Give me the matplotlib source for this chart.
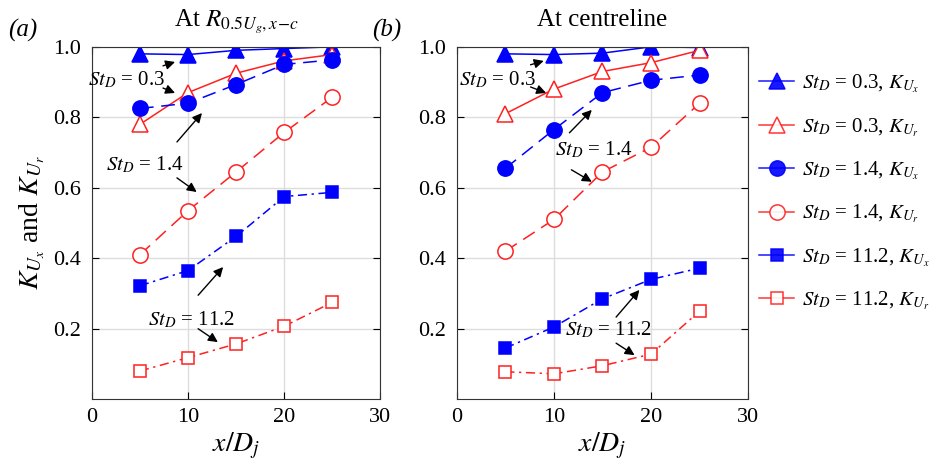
import numpy as np
from matplotlib import pyplot as plt
from matplotlib.lines import Line2D

plt.rcParams['font.family'] = ['Liberation Serif', 'DejaVu Serif']
plt.rcParams['mathtext.fontset'] = 'stix'
plt.rcParams['font.size'] = 16

X_D = [5, 10, 15, 20, 25]

# panel (a): at R_0.5Ug,x-c
A_ST03_KUX = [0.980, 0.978, 0.990, 0.995, 1.000]
A_ST03_KUR = [0.780, 0.870, 0.925, 0.960, 0.978]
A_ST14_KUX = [0.825, 0.840, 0.893, 0.950, 0.963]
A_ST14_KUR = [0.410, 0.535, 0.645, 0.757, 0.857]
A_ST112_KUX = [0.322, 0.365, 0.462, 0.575, 0.587]
A_ST112_KUR = [0.080, 0.118, 0.157, 0.207, 0.275]

# panel (b): at centreline
B_ST03_KUX = [0.980, 0.978, 0.982, 1.000, 0.998]
B_ST03_KUR = [0.810, 0.880, 0.930, 0.955, 0.990]
B_ST14_KUX = [0.655, 0.765, 0.870, 0.905, 0.920]
B_ST14_KUR = [0.420, 0.510, 0.645, 0.715, 0.840]
B_ST112_KUX = [0.145, 0.205, 0.285, 0.340, 0.372]
B_ST112_KUR = [0.078, 0.072, 0.095, 0.128, 0.250]

LABELS = [
    r"$St_D$ = 0.3, $K_{U_x}$",
    r"$St_D$ = 0.3, $K_{U_r}$",
    r"$St_D$ = 1.4, $K_{U_x}$",
    r"$St_D$ = 1.4, $K_{U_r}$",
    r"$St_D$ = 11.2, $K_{U_x}$",
    r"$St_D$ = 11.2, $K_{U_r}$",
]

BLUE = "#0000ff"
RED = "#ff2020"
STYLES = [
    dict(color=BLUE, ls="-", marker="^", mfc=BLUE, ms=11),
    dict(color=RED, ls="-", marker="^", mfc="white", ms=11),
    dict(color=BLUE, ls=(0, (9, 5)), marker="o", mfc=BLUE, ms=11),
    dict(color=RED, ls=(0, (9, 5)), marker="o", mfc="white", ms=11),
    dict(color=BLUE, ls=(0, (6, 3, 1.5, 3)), marker="s", mfc=BLUE, ms=9),
    dict(color=RED, ls=(0, (6, 3, 1.5, 3)), marker="s", mfc="white", ms=9),
]

# (text, text pos, [arrow start, arrow end] ...)
NOTES_A = [
    ("0.3", (3.6, 0.906), [((7.4, 0.946), (8.65, 0.957)), ((7.4, 0.883), (8.65, 0.869))]),
    ("1.4", (5.5, 0.665), [((8.85, 0.730), (11.45, 0.812)), ((8.85, 0.628), (10.9, 0.588))]),
    ("11.2", (10.4, 0.224), [((11.05, 0.295), (13.65, 0.375)), ((11.05, 0.200), (13.1, 0.162))]),
]
NOTES_B = [
    ("0.3", (4.2, 0.906), [((7.6, 0.949), (8.95, 0.960)), ((7.6, 0.886), (9.2, 0.869))]),
    ("1.4", (14.1, 0.707), [((11.6, 0.756), (13.9, 0.821)), ((11.8, 0.651), (13.9, 0.617))]),
    ("11.2", (15.6, 0.196), [((16.4, 0.233), (18.8, 0.310)), ((16.4, 0.159), (18.3, 0.125))]),
]


def draw_panel(ax, series, notes, title, tag):
    for y, st in zip(series, STYLES):
        ax.plot(X_D, y, lw=1.1, mew=1.1, mec=st["color"], **st)
    ax.set_xlim(0, 30)
    ax.set_ylim(0, 1.0)
    ax.set_xticks([0, 10, 20, 30])
    ax.set_yticks([0.2, 0.4, 0.6, 0.8, 1.0])
    ax.set_yticklabels(["0.2", "0.4", "0.6", "0.8", "1.0"])
    ax.grid(color="#dddddd", lw=1)
    ax.set_axisbelow(True)
    ax.tick_params(direction="in", right=True, top=True, length=5)
    ax.tick_params(axis="y", pad=8)
    ax.tick_params(axis="x", pad=6)
    for s in ax.spines.values():
        s.set_color("#333333")
    ax.set_xlabel(r"$x/D_j$", fontsize=20, labelpad=3)
    ax.set_title(title, fontsize=18, pad=15)
    ax.text(-0.29, 1.03, tag, transform=ax.transAxes, fontsize=18, style="italic")
    for val, pos, arrows in notes:
        ax.text(*pos, r"$St_D$ = " + val, ha="center", va="center", fontsize=15)
        for start, end in arrows:
            ax.annotate("", xy=end, xytext=start,
                        arrowprops=dict(arrowstyle="-|>", color="black", lw=1,
                                        mutation_scale=14, shrinkA=0, shrinkB=0))


fig = plt.figure(figsize=(9.37, 4.68), dpi=100)
ax1 = fig.add_axes([0.098, 0.147, 0.308, 0.753])
ax2 = fig.add_axes([0.4874, 0.147, 0.3112, 0.753])

draw_panel(ax1, [A_ST03_KUX, A_ST03_KUR, A_ST14_KUX, A_ST14_KUR, A_ST112_KUX, A_ST112_KUR],
           NOTES_A, r"At $R_{0.5U_g,x\!-\!c}$", "(a)")
draw_panel(ax2, [B_ST03_KUX, B_ST03_KUR, B_ST14_KUX, B_ST14_KUR, B_ST112_KUX, B_ST112_KUR],
           NOTES_B, "At centreline", "(b)")
ax1.set_ylabel(r"$K_{U_x}$ and $K_{U_r}$", fontsize=20)

handles = [Line2D([], [], lw=1.1, mew=1.1, mec=st["color"], alpha=0.9,
                  **{k: (v if k != "ls" else "-") for k, v in st.items()})
           for st in STYLES]
fig.legend(handles, LABELS, loc="upper left", bbox_to_anchor=(0.79, 0.885),
           frameon=False, fontsize=15, handlelength=1.7, labelspacing=1.0,
           handletextpad=0.35)

fig.savefig("out.png", dpi=100)
